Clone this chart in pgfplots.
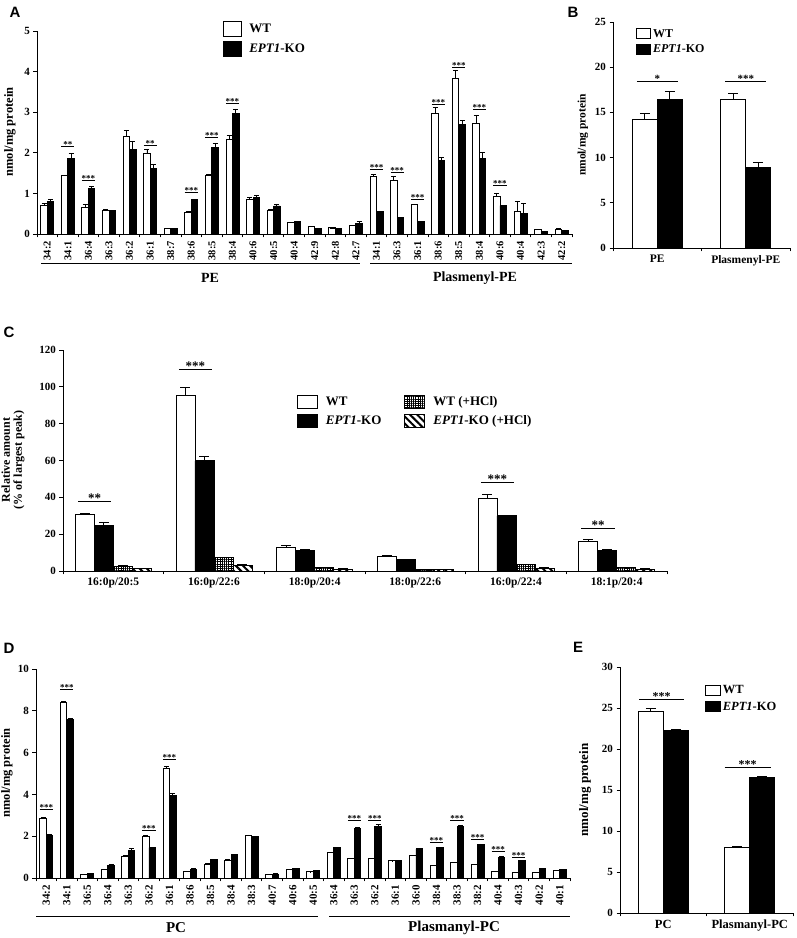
\documentclass[border=0pt]{standalone}
\usepackage{pgfplots}
\pgfplotsset{compat=1.18}
\usepackage{pgfplotstable}
\usepackage{fontspec}
\setmainfont{Liberation Serif}
\newfontfamily\lettfont{Liberation Sans}
\usetikzlibrary{patterns,patterns.meta}

\newcommand{\fs}[1]{\fontsize{#1}{#1}\selectfont}
% significance bar: x1, x2, y, stars, font size
\newcommand{\sig}[5]{\draw[line width=0.8pt] (axis cs:#1,#3) -- (axis cs:#2,#3)
  node[midway, anchor=south, inner sep=0pt, yshift=-1.5pt, font=\bfseries\fs{#5}] {#4};}

\pgfplotsset{
  panel/.style={
    scale only axis, clip=false,
    axis x line=bottom, axis y line=left,
    axis line style={-, line width=0.9pt},
    tick align=outside, major tick length=3.5pt,
    every tick/.style={black, line width=0.9pt},
    ymin=0, enlargelimits=false,
    /pgf/number format/assume math mode=true,
    tick label style={font=\bfseries\fs{11}},
    x tick label as interval,
    ybar=0pt,
    error bars/y dir=plus, error bars/y explicit,
    error bars/error bar style={line width=0.8pt, black},
    legend cell align=left,
  },
  wt/.style={draw=black, fill=white, line width=0.9pt},
  ko/.style={draw=black, fill=black, line width=0.9pt},
  boxleg/.style n args={2}{legend image code/.code={\draw[##1] (0pt,-#2/2) rectangle (#1,#2/2);}},
}

\pgfplotstableread{
x wt wte ko koe
0 0.70 0.05 0.80 0.05
1 1.45 0.00 1.86 0.13
2 0.66 0.07 1.12 0.05
3 0.57 0.03 0.57 0.00
4 2.40 0.15 2.08 0.20
5 1.98 0.10 1.61 0.10
6 0.14 0.00 0.14 0.00
7 0.54 0.02 0.84 0.00
8 1.43 0.05 2.13 0.10
9 2.32 0.10 2.96 0.12
10 0.85 0.05 0.89 0.05
11 0.57 0.04 0.69 0.05
12 0.28 0.00 0.31 0.00
13 0.18 0.00 0.13 0.00
14 0.15 0.00 0.13 0.00
15 0.22 0.00 0.25 0.05
16 1.41 0.05 0.55 0.00
17 1.33 0.10 0.41 0.00
18 0.72 0.02 0.31 0.00
19 2.96 0.15 1.81 0.08
20 3.82 0.20 2.69 0.10
21 2.73 0.20 1.86 0.15
22 0.92 0.07 0.70 0.00
23 0.55 0.25 0.51 0.25
24 0.11 0.00 0.06 0.00
25 0.11 0.02 0.08 0.00
}\tabA

\pgfplotstableread{
x wt wte ko koe
0 14.2 0.65 16.4 0.90
1 16.4 0.65 8.86 0.60
}\tabB

\pgfplotstableread{
x wt wte ko koe wth wthe koh kohe
0 30.9 0.5 24.8 1.5 2.7 0.5 1.3 0.2
1 95.5 4.0 59.8 2.5 7.1 0.5 3.0 0.5
2 13.0 1.0 11.2 0.5 1.8 0.2 1.0 0.2
3 7.8 0.5 6.0 0.5 0.9 0.1 0.6 0.1
4 39.3 2.5 29.9 0.5 3.4 0.3 1.6 0.2
5 15.8 1.3 11.2 0.5 1.8 0.2 1.0 0.2
}\tabC

\pgfplotstableread{
x wt wte ko koe
0 2.85 0.03 2.05 0.02
1 8.40 0.05 7.60 0.03
2 0.16 0.01 0.20 0.01
3 0.40 0.02 0.60 0.03
4 1.05 0.03 1.30 0.10
5 2.00 0.03 1.45 0.03
6 5.25 0.10 3.95 0.10
7 0.32 0.01 0.43 0.02
8 0.67 0.02 0.88 0.02
9 0.85 0.02 1.12 0.02
10 2.03 0.03 1.97 0.02
11 0.16 0.01 0.19 0.01
12 0.42 0.01 0.46 0.01
13 0.30 0.01 0.37 0.01
14 1.22 0.02 1.44 0.02
15 0.93 0.02 2.37 0.03
16 0.93 0.02 2.45 0.10
17 0.82 0.01 0.82 0.01
18 1.07 0.02 1.39 0.02
19 0.61 0.01 1.44 0.02
20 0.74 0.01 2.48 0.03
21 0.64 0.01 1.60 0.03
22 0.32 0.01 1.00 0.02
23 0.26 0.01 0.82 0.02
24 0.26 0.01 0.46 0.01
25 0.37 0.01 0.42 0.01
}\tabD

\pgfplotstableread{
x wt wte ko koe
0 24.56 0.40 22.3 0.10
1 8.00 0.10 16.5 0.15
}\tabE

\begin{document}
\begin{tikzpicture}
\path[use as bounding box] (0,0) rectangle (796pt,938pt);

% ---------- A ----------
\begin{axis}[panel, at={(37pt,704pt)}, anchor=south west, width=535pt, height=203pt,
  xmin=-0.5, xmax=25.5, ymax=5, ytick={0,...,5}, bar width=6.5pt,
  xtick={-0.5,0.5,...,25.5},
  xticklabels={34:2,34:1,36:4,36:3,36:2,36:1,38:7,38:6,38:5,38:4,40:6,40:5,40:4,42:9,42:8,42:7,
    34:1,36:3,36:1,38:6,38:5,38:4,40:6,40:4,42:3,42:2},
  x tick label style={rotate=90, anchor=east, font=\bfseries\fs{10.5}},
  error bars/error mark options={rotate=90, line width=0.8pt, mark size=2.5pt, black},
  boxleg={18pt}{15pt},
  legend style={at={(rel axis cs:0.348,1.049)}, anchor=north west, draw=none, fill=none,
    font=\bfseries\fs{13}, row sep=4pt, inner sep=0pt,
    /tikz/every odd column/.append style={column sep=5pt}},
]
\addplot[wt] table[x=x, y=wt, y error=wte] {\tabA};
\addplot[ko] table[x=x, y=ko, y error=koe] {\tabA};
\addlegendentry{WT}
\addlegendentry{\textit{EPT1}-KO}
\sig{0.68}{1.32}{2.15}{**}{9}
\sig{1.68}{2.32}{1.33}{***}{9}
\sig{4.68}{5.32}{2.17}{**}{9}
\sig{6.68}{7.32}{1.02}{***}{9}
\sig{7.68}{8.32}{2.38}{***}{9}
\sig{8.68}{9.32}{3.22}{***}{9}
\sig{15.68}{16.32}{1.60}{***}{9}
\sig{16.68}{17.32}{1.52}{***}{9}
\sig{17.68}{18.32}{0.85}{***}{9}
\sig{18.68}{19.32}{3.20}{***}{9}
\sig{19.68}{20.32}{4.10}{***}{9}
\sig{20.68}{21.32}{3.08}{***}{9}
\sig{21.68}{22.32}{1.19}{***}{9}
\end{axis}
\draw[line width=0.9pt] (41pt,675pt) -- (360pt,675pt);
\draw[line width=0.9pt] (370pt,675pt) -- (572pt,675pt);
\node[font=\bfseries\fs{14}] at (210pt,660pt) {PE};
\node[font=\bfseries\fs{14}] at (475pt,660pt) {Plasmenyl-PE};
\node[rotate=90, font=\bfseries\fs{12.5}] at (10pt,806pt) {nmol/mg protein};

% ---------- B ----------
\begin{axis}[panel, at={(613pt,690pt)}, anchor=south west, width=177pt, height=226pt,
  xmin=-0.5, xmax=1.5, ymax=25, ytick={0,5,...,25}, bar width=25pt,
  xtick={-0.5,0.5,1.5}, xticklabels={PE,Plasmenyl-PE},
  x tick label style={font=\bfseries\fs{11.5}},
  error bars/error mark options={rotate=90, line width=0.8pt, mark size=5pt, black},
  boxleg={14pt}{10pt},
  legend style={at={(rel axis cs:0.13,0.978)}, anchor=north west, draw=none, fill=none,
    font=\bfseries\fs{12}, row sep=2pt, inner sep=0pt},
]
\addplot[wt] table[x=x, y=wt, y error=wte] {\tabB};
\addplot[ko] table[x=x, y=ko, y error=koe] {\tabB};
\addlegendentry{WT}
\addlegendentry{\textit{EPT1}-KO}
\sig{-0.23}{0.23}{18.4}{*}{11}
\sig{0.77}{1.23}{18.4}{***}{11}
\end{axis}
\node[rotate=90, font=\bfseries\fs{11.5}] at (583pt,803pt) {nmol/mg protein};

% ---------- C ----------
\begin{axis}[panel, at={(63pt,367pt)}, anchor=south west, width=604pt, height=221pt,
  xmin=-0.5, xmax=5.5, ymax=120, ytick={0,20,...,120}, bar width=19pt,
  xtick={-0.5,0.5,...,5.5},
  xticklabels={16:0p/20:5,16:0p/22:6,18:0p/20:4,18:0p/22:6,16:0p/22:4,18:1p/20:4},
  x tick label style={font=\bfseries\fs{11.5}},
  error bars/error mark options={rotate=90, line width=0.8pt, mark size=5pt, black},
  boxleg={20pt}{13pt},
  legend columns=2, transpose legend,
  legend style={at={(rel axis cs:0.387,0.80)}, anchor=north west, draw=none, fill=none,
    font=\bfseries\fs{13}, row sep=5pt, inner sep=0pt,
    /tikz/every odd column/.append style={column sep=6pt},
    /tikz/every even column/.append style={column sep=21pt}},
]
\addplot[wt] table[x=x, y=wt, y error=wte] {\tabC};
\addplot[ko] table[x=x, y=ko, y error=koe] {\tabC};
\addplot[draw=black, line width=0.9pt, pattern={Hatch[angle=0, distance=2.2pt, line width=0.8pt]}]
  table[x=x, y=wth, y error=wthe] {\tabC};
\addplot[draw=black, line width=0.9pt, pattern={Lines[angle=-45, distance=5pt, line width=2pt]}]
  table[x=x, y=koh, y error=kohe] {\tabC};
\addlegendentry{WT}
\addlegendentry{\textit{EPT1}-KO}
\addlegendentry{WT (+HCl)}
\addlegendentry{\textit{EPT1}-KO (+HCl)}
\sig{-0.35}{-0.02}{37.9}{**}{13}
\sig{0.65}{0.98}{109.7}{***}{13}
\sig{3.65}{3.98}{48}{***}{13}
\sig{4.65}{4.98}{23.4}{**}{13}
\end{axis}
\node[align=center, rotate=90, font=\bfseries\fs{12}] at (13pt,478pt) {Relative amount\\(\% of largest peak)};

% ---------- D ----------
\begin{axis}[panel, at={(36pt,60pt)}, anchor=south west, width=534pt, height=209pt,
  xmin=-0.5, xmax=25.5, ymax=10, ytick={0,2,...,10}, bar width=6.5pt,
  xtick={-0.5,0.5,...,25.5},
  xticklabels={34:2,34:1,36:5,36:4,36:3,36:2,36:1,38:6,38:5,38:4,38:3,40:7,40:6,40:5,
    36:4,36:3,36:2,36:1,36:0,38:4,38:3,38:2,40:4,40:3,40:2,40:1},
  x tick label style={rotate=90, anchor=east, font=\bfseries\fs{11}},
  error bars/error mark options={rotate=90, line width=0.8pt, mark size=2.5pt, black},
]
\addplot[wt] table[x=x, y=wt, y error=wte] {\tabD};
\addplot[ko] table[x=x, y=ko, y error=koe] {\tabD};
\sig{-0.32}{0.32}{3.30}{***}{9}
\sig{0.68}{1.32}{9.04}{***}{9}
\sig{4.68}{5.32}{2.29}{***}{9}
\sig{5.68}{6.32}{5.68}{***}{9}
\sig{14.68}{15.32}{2.77}{***}{9}
\sig{15.68}{16.32}{2.77}{***}{9}
\sig{18.68}{19.32}{1.70}{***}{9}
\sig{19.68}{20.32}{2.77}{***}{9}
\sig{20.68}{21.32}{1.86}{***}{9}
\sig{21.68}{22.32}{1.28}{***}{9}
\sig{22.68}{23.32}{0.98}{***}{9}
\end{axis}
\draw[line width=0.9pt] (36pt,22pt) -- (318pt,22pt);
\draw[line width=0.9pt] (329pt,22pt) -- (570pt,22pt);
\node[font=\bfseries\fs{15}] at (176pt,10pt) {PC};
\node[font=\bfseries\fs{15}] at (454pt,10pt) {Plasmanyl-PC};
\node[rotate=90, font=\bfseries\fs{12.5}] at (7pt,165pt) {nmol/mg protein};

% ---------- E ----------
\begin{axis}[panel, at={(620pt,25pt)}, anchor=south west, width=173pt, height=246pt,
  xmin=-0.5, xmax=1.5, ymax=30, ytick={0,5,...,30}, bar width=25pt,
  xtick={-0.5,0.5,1.5}, xticklabels={PC,Plasmanyl-PC},
  x tick label style={font=\bfseries\fs{12.5}},
  error bars/error mark options={rotate=90, line width=0.8pt, mark size=5pt, black},
  boxleg={15pt}{10pt},
  legend style={at={(rel axis cs:0.49,0.935)}, anchor=north west, draw=none, fill=none,
    font=\bfseries\fs{12.5}, row sep=3pt, inner sep=0pt},
]
\addplot[wt] table[x=x, y=wt, y error=wte] {\tabE};
\addplot[ko] table[x=x, y=ko, y error=koe] {\tabE};
\addlegendentry{WT}
\addlegendentry{\textit{EPT1}-KO}
\sig{-0.28}{0.24}{26.1}{***}{12}
\sig{0.71}{1.24}{17.7}{***}{12}
\end{axis}
\node[rotate=90, font=\bfseries\fs{13}] at (585pt,148pt) {nmol/mg protein};

% panel letters
\node[font=\lettfont\bfseries\fs{15}] at (15pt,926pt) {A};
\node[font=\lettfont\bfseries\fs{15}] at (573pt,926pt) {B};
\node[font=\lettfont\bfseries\fs{15}] at (9pt,606pt) {C};
\node[font=\lettfont\bfseries\fs{15}] at (9pt,290pt) {D};
\node[font=\lettfont\bfseries\fs{15}] at (578pt,291pt) {E};
\end{tikzpicture}
\end{document}
